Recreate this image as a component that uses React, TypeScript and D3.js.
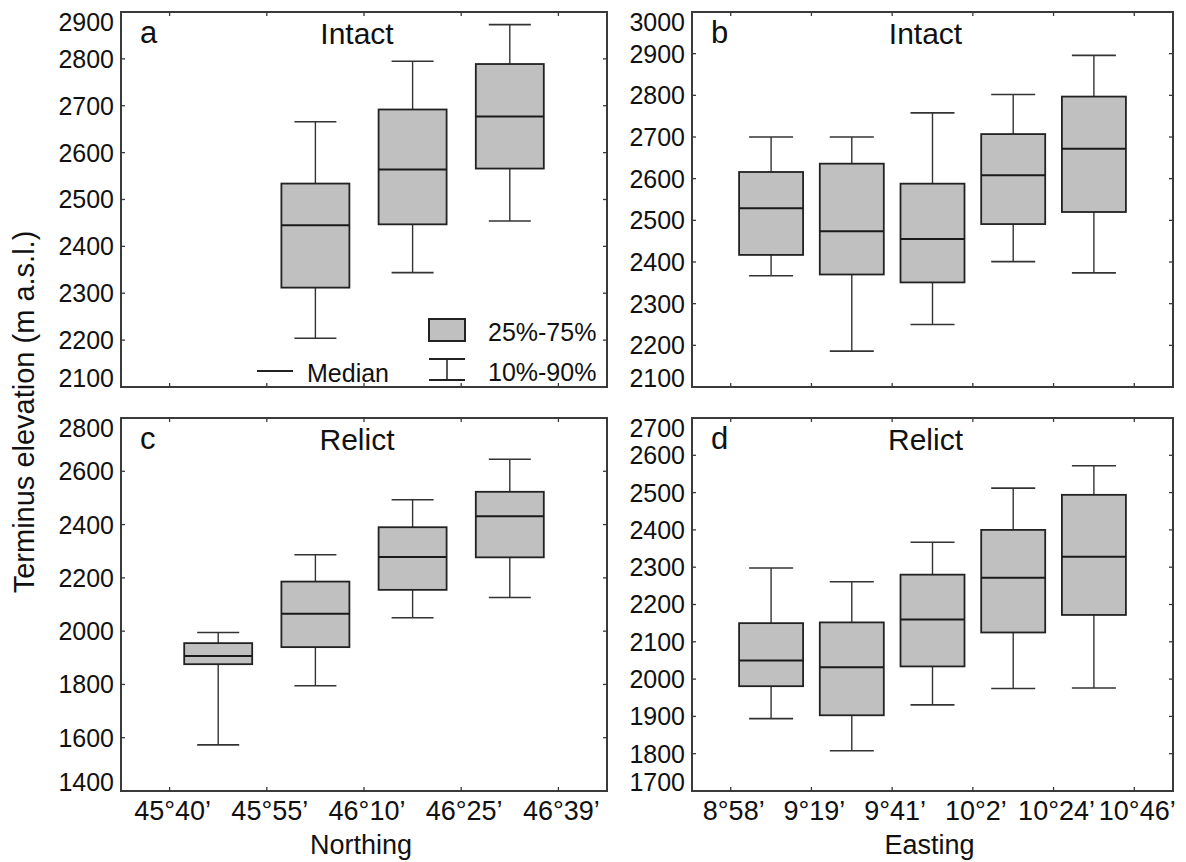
import React from 'react';
import * as d3 from 'd3';

// ---------- data ----------
const northingLabels = ['45°40’', '45°55’', '46°10’', '46°25’', '46°39’'];
const eastingLabels = ['8°58’', '9°19’', '9°41’', '10°2’', '10°24’', '10°46’'];

// a: Intact, Northing (boxes in intervals 1..3)
const aPos = [1, 2, 3];
const aP10 = [2204, 2344, 2454];
const aQ1 = [2312, 2447, 2566];
const aMed = [2445, 2564, 2677];
const aQ3 = [2534, 2692, 2789];
const aP90 = [2666, 2795, 2873];

// b: Intact, Easting
const bPos = [0, 1, 2, 3, 4];
const bP10 = [2367, 2186, 2250, 2401, 2374];
const bQ1 = [2417, 2370, 2351, 2491, 2520];
const bMed = [2529, 2474, 2455, 2608, 2672];
const bQ3 = [2616, 2636, 2588, 2707, 2797];
const bP90 = [2700, 2700, 2758, 2802, 2896];

// c: Relict, Northing
const cPos = [0, 1, 2, 3];
const cP10 = [1573, 1795, 2050, 2126];
const cQ1 = [1876, 1940, 2155, 2277];
const cMed = [1907, 2065, 2278, 2431];
const cQ3 = [1955, 2186, 2390, 2523];
const cP90 = [1995, 2287, 2493, 2645];

// d: Relict, Easting
const dPos = [0, 1, 2, 3, 4];
const dP10 = [1894, 1808, 1931, 1975, 1976];
const dQ1 = [1981, 1903, 2034, 2125, 2172];
const dMed = [2050, 2032, 2160, 2272, 2328];
const dQ3 = [2150, 2152, 2280, 2400, 2494];
const dP90 = [2298, 2261, 2367, 2512, 2572];

const aYTicks = d3.range(2100, 2901, 100);
const bYTicks = d3.range(2100, 3001, 100);
const cYTicks = d3.range(1400, 2801, 200);
const dYTicks = d3.range(1700, 2701, 100);

// ---------- styles ----------
const FONT = '"Liberation Sans", Arial, Helvetica, sans-serif';
const FILL = '#c0c0c0';
const TEXT = '#111';
const FRAME = '#3a3a3a';

type Stats = { pos: number[]; p10: number[]; q1: number[]; med: number[]; q3: number[]; p90: number[] };

interface PanelProps {
  x0: number; x1: number; y0: number; y1: number;
  xDomain: [number, number];
  yDomain: [number, number];
  yTicks: number[];
  xLabels: string[];
  showXLabels: boolean;
  stats: Stats;
  boxW: number; capW: number;
  letter: string; title: string;
  xTitle?: string;
  children?: React.ReactNode;
}

function Panel(p: PanelProps) {
  const x = d3.scaleLinear().domain(p.xDomain).range([p.x0, p.x1]);
  const y = d3.scaleLinear().domain(p.yDomain).range([p.y1, p.y0]);
  const tl = 4;
  const yfs = 25;
  const cap = yfs * 0.716;
  const [ymin, ymax] = p.yDomain;
  const xt = p.xLabels.map((_, i) => i);
  const cx = (p.x0 + p.x1) / 2;
  return (
    <g>
      {/* boxes */}
      {p.stats.pos.map((pos, i) => {
        const c = x(pos + 0.5);
        return (
          <g key={i}>
            <line x1={c} x2={c} y1={y(p.stats.p90[i])} y2={y(p.stats.q3[i])} stroke="#333" strokeWidth={1.4} />
            <line x1={c} x2={c} y1={y(p.stats.q1[i])} y2={y(p.stats.p10[i])} stroke="#333" strokeWidth={1.4} />
            <line x1={c - p.capW / 2} x2={c + p.capW / 2} y1={y(p.stats.p90[i])} y2={y(p.stats.p90[i])} stroke="#333" strokeWidth={1.6} />
            <line x1={c - p.capW / 2} x2={c + p.capW / 2} y1={y(p.stats.p10[i])} y2={y(p.stats.p10[i])} stroke="#333" strokeWidth={1.6} />
            <rect x={c - p.boxW / 2} y={y(p.stats.q3[i])} width={p.boxW} height={y(p.stats.q1[i]) - y(p.stats.q3[i])}
              fill={FILL} stroke="#222" strokeWidth={1.8} />
            <line x1={c - p.boxW / 2} x2={c + p.boxW / 2} y1={y(p.stats.med[i])} y2={y(p.stats.med[i])} stroke="#1a1a1a" strokeWidth={2} />
          </g>
        );
      })}
      {/* frame */}
      <rect x={p.x0} y={p.y0} width={p.x1 - p.x0} height={p.y1 - p.y0} fill="none" stroke={FRAME} strokeWidth={2} />
      {/* y ticks (inward, both sides) */}
      {p.yTicks.filter(v => v > ymin && v < ymax).map(v => (
        <g key={'yt' + v}>
          <line x1={p.x0} x2={p.x0 + tl} y1={y(v)} y2={y(v)} stroke={FRAME} strokeWidth={1.3} />
          <line x1={p.x1} x2={p.x1 - tl} y1={y(v)} y2={y(v)} stroke={FRAME} strokeWidth={1.3} />
        </g>
      ))}
      {/* x ticks (inward, top & bottom) */}
      {xt.map(i => (
        <g key={'xt' + i}>
          <line x1={x(i)} x2={x(i)} y1={p.y1} y2={p.y1 - tl} stroke={FRAME} strokeWidth={1.3} />
          <line x1={x(i)} x2={x(i)} y1={p.y0} y2={p.y0 + tl} stroke={FRAME} strokeWidth={1.3} />
        </g>
      ))}
      {/* y labels */}
      {p.yTicks.map(v => {
        let by = y(v) + cap / 2;
        if (v === ymax) by = p.y0 + cap + 1;
        if (v === ymin) by = p.y1;
        return (
          <text key={'yl' + v} x={p.x0 - 7} y={by} textAnchor="end" fontSize={yfs} fontFamily={FONT} fill={TEXT}>{v}</text>
        );
      })}
      {/* x labels */}
      {p.showXLabels && p.xLabels.map((s, i) => (
        <text key={'xl' + i} x={x(i) + 3} y={p.y1 + 29} textAnchor="middle" fontSize={27} fontFamily={FONT} fill={TEXT}>{s}</text>
      ))}
      {p.xTitle && (
        <text x={cx - 3} y={p.y1 + 63} textAnchor="middle" fontSize={27} fontFamily={FONT} fill={TEXT}>{p.xTitle}</text>
      )}
      {/* letter & title */}
      <text x={p.x0 + 19} y={p.y0 + 31} fontSize={31} fontFamily={FONT} fill={TEXT}>{p.letter}</text>
      <text x={cx - 7} y={p.y0 + 32} textAnchor="middle" fontSize={30} fontFamily={FONT} fill={TEXT}>{p.title}</text>
      {p.children}
    </g>
  );
}

export default function App() {
  const L = { x0: 121, x1: 607 };
  const R = { x0: 692, x1: 1173 };
  const T = { y0: 12, y1: 387 };
  const B = { y0: 418, y1: 791 };
  const lx: [number, number] = [-0.5, 4.5];
  const rx: [number, number] = [-0.48, 5.48];

  return (
    <svg width={1186} height={862} style={{ position: 'absolute', left: 0, top: 0, background: '#fff' }}>
      <rect x={0} y={0} width={1186} height={862} fill="#fff" />
      <Panel {...L} {...T} xDomain={lx} yDomain={[2100, 2900]} yTicks={aYTicks} xLabels={northingLabels} showXLabels={false}
        stats={{ pos: aPos, p10: aP10, q1: aQ1, med: aMed, q3: aQ3, p90: aP90 }} boxW={68} capW={42} letter="a" title="Intact">
        {/* legend */}
        <line x1={257} x2={293} y1={371} y2={371} stroke="#222" strokeWidth={1.8} />
        <text x={307} y={382} fontSize={25} fontFamily={FONT} fill={TEXT}>Median</text>
        <rect x={429} y={319} width={36} height={22} fill={FILL} stroke="#222" strokeWidth={2} />
        <text x={488} y={341} fontSize={25} fontFamily={FONT} fill={TEXT}>25%-75%</text>
        <line x1={429} x2={465} y1={359} y2={359} stroke="#222" strokeWidth={1.8} />
        <line x1={429} x2={465} y1={380} y2={380} stroke="#222" strokeWidth={1.8} />
        <line x1={447} x2={447} y1={359} y2={380} stroke="#222" strokeWidth={1.5} />
        <text x={488} y={381} fontSize={25} fontFamily={FONT} fill={TEXT}>10%-90%</text>
      </Panel>
      <Panel {...R} {...T} xDomain={rx} yDomain={[2100, 3000]} yTicks={bYTicks} xLabels={eastingLabels} showXLabels={false}
        stats={{ pos: bPos, p10: bP10, q1: bQ1, med: bMed, q3: bQ3, p90: bP90 }} boxW={64} capW={44} letter="b" title="Intact" />
      <Panel {...L} {...B} xDomain={lx} yDomain={[1400, 2800]} yTicks={cYTicks} xLabels={northingLabels} showXLabels={true}
        stats={{ pos: cPos, p10: cP10, q1: cQ1, med: cMed, q3: cQ3, p90: cP90 }} boxW={68} capW={42} letter="c" title="Relict" xTitle="Northing" />
      <Panel {...R} {...B} xDomain={rx} yDomain={[1700, 2700]} yTicks={dYTicks} xLabels={eastingLabels} showXLabels={true}
        stats={{ pos: dPos, p10: dP10, q1: dQ1, med: dMed, q3: dQ3, p90: dP90 }} boxW={64} capW={44} letter="d" title="Relict" xTitle="Easting" />
      <text transform="translate(34,412) rotate(-90)" textAnchor="middle" fontSize={29} fontFamily={FONT} fill={TEXT}>
        Terminus elevation (m a.s.l.)
      </text>
    </svg>
  );
}
